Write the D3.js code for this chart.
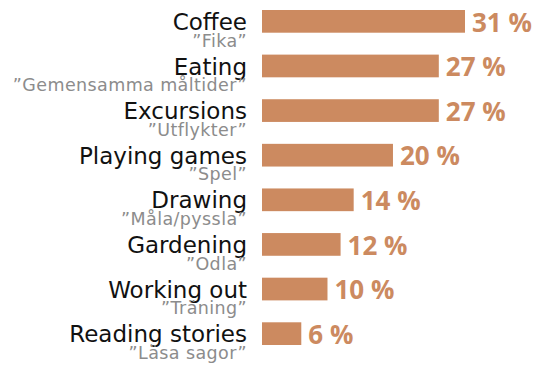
<!DOCTYPE html>
<html>
<head>
<meta charset="utf-8">
<script src="https://cdn.jsdelivr.net/npm/d3@7"></script>
<style>
  html, body { margin: 0; padding: 0; background: #fff; }
  svg { display: block; }
</style>
</head>
<body>
<svg id="chart" width="536" height="365"></svg>
<script>
// Activities, their Swedish names, and share of respondents (%)
const activities = ["Coffee", "Eating", "Excursions", "Playing games", "Drawing", "Gardening", "Working out", "Reading stories"];
const swedish = ["Fika", "Gemensamma måltider", "Utflykter", "Spel", "Måla/pyssla", "Odla", "Träning", "Läsa sagor"];
const shares = [31, 27, 27, 20, 14, 12, 10, 6];

const barColor = "#cc8a60";

const svg = d3.select("#chart");

const x = d3.scaleLinear().domain([0, 31]).range([262, 465]);
const y = d3.scaleBand().domain(activities).range([10, 345]).paddingInner(0.491).paddingOuter(0);

const rows = svg.selectAll("g.row")
  .data(activities.map((a, i) => ({ name: a, sv: swedish[i], v: shares[i] })))
  .join("g")
  .attr("class", "row")
  .attr("transform", d => `translate(0,${y(d.name)})`);

rows.append("rect")
  .attr("x", x(0))
  .attr("y", 0)
  .attr("width", d => x(d.v) - x(0))
  .attr("height", y.bandwidth())
  .attr("fill", barColor);

// English activity name
rows.append("text")
  .attr("x", 247)
  .attr("y", 20)
  .attr("text-anchor", "end")
  .attr("font-family", "DejaVu Sans")
  .attr("font-size", 23)
  .attr("fill", "#111")
  .text(d => d.name);

// Swedish name in quotes below
rows.append("text")
  .attr("x", 247)
  .attr("y", 36.5)
  .attr("text-anchor", "end")
  .attr("font-family", "DejaVu Sans")
  .attr("font-size", 17.5)
  .attr("letter-spacing", 0.4)
  .attr("fill", "#8c8c8c")
  .text(d => `”${d.sv}”`);

// Share label at the end of each bar
rows.append("text")
  .attr("x", d => x(d.v) + 7)
  .attr("y", 21.5)
  .attr("font-family", "Open Sans")
  .attr("font-weight", "bold")
  .attr("font-size", 26)
  .attr("fill", barColor)
  .text(d => `${d.v} %`);
</script>
</body>
</html>
